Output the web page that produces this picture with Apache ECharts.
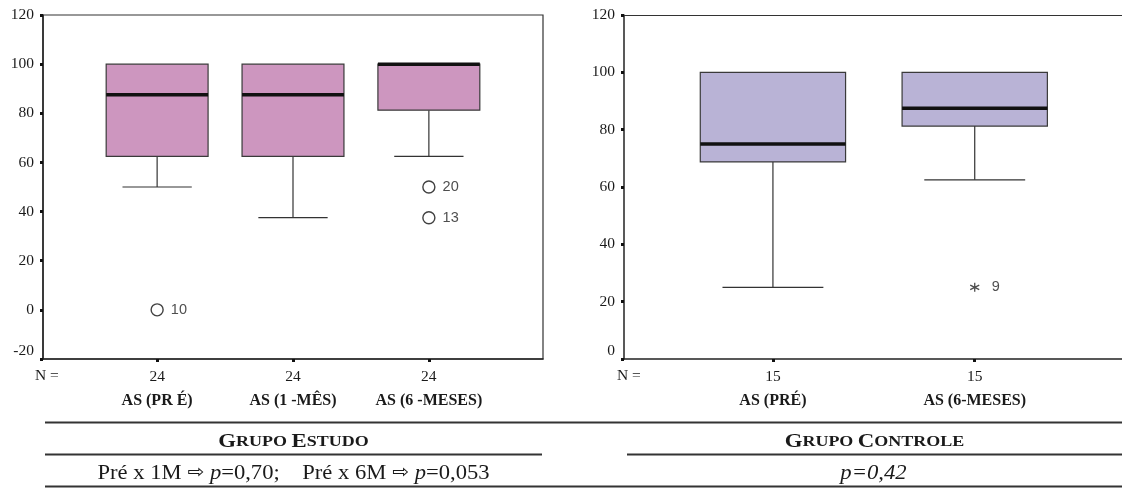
<!DOCTYPE html>
<html>
<head>
<meta charset="utf-8">
<script src="https://cdn.jsdelivr.net/npm/echarts@6/dist/echarts.min.js"></script>
<style>
html,body{margin:0;padding:0;background:#fff;}
#c{width:1122px;height:488px;}
</style>
</head>
<body>
<div id="c"></div>
<script>
// ---- Data: Grupo Estudo ----
const estudoCats = ['AS (PR É)', 'AS (1 -MÊS)', 'AS (6 -MESES)'];
const estudoN = [24, 24, 24];
const estudoMin = [50, 37.5, 62.5];
const estudoQ1 = [62.5, 62.5, 81.25];
const estudoMedian = [87.5, 87.5, 100];
const estudoQ3 = [100, 100, 100];
const estudoMax = [100, 100, 100];
const estudoOutlierCat = [1, 3, 3];
const estudoOutlierVal = [0, 50, 37.5];
const estudoOutlierId = ['10', '20', '13'];
const estudoYTicks = [-20, 0, 20, 40, 60, 80, 100, 120];

// ---- Data: Grupo Controle ----
const controleCats = ['AS (PRÉ)', 'AS (6-MESES)'];
const controleN = [15, 15];
const controleMin = [25, 62.5];
const controleQ1 = [68.75, 81.25];
const controleMedian = [75, 87.5];
const controleQ3 = [100, 100];
const controleMax = [100, 100];
const controleOutlierCat = [2];
const controleOutlierVal = [25];
const controleOutlierId = ['9'];
const controleYTicks = [0, 20, 40, 60, 80, 100, 120];

const SERIF = '"Liberation Serif", "Times New Roman", serif';
const SANS = '"Liberation Sans", Arial, sans-serif';
const TXT = '#1a1a1a';

function boxData(mins, q1, med, q3, max) {
  return mins.map((m, i) => [i + 1, m, q1[i], med[i], q3[i], max[i]]);
}

function makeRender(boxW, capW, fill) {
  return function (params, api) {
    const x = api.value(0);
    const pLo = api.coord([x, api.value(1)]);
    const pQ1 = api.coord([x, api.value(2)]);
    const pMed = api.coord([x, api.value(3)]);
    const pQ3 = api.coord([x, api.value(4)]);
    const pHi = api.coord([x, api.value(5)]);
    const bw = api.size([boxW, 0])[0];
    const cw = api.size([capW, 0])[0];
    const cx = pMed[0];
    const lineStyle = { stroke: '#333', lineWidth: 1.2, fill: null };
    const children = [];
    children.push({ type: 'line', shape: { x1: cx, y1: pQ1[1], x2: cx, y2: pLo[1] }, style: lineStyle });
    children.push({ type: 'line', shape: { x1: cx - cw / 2, y1: pLo[1], x2: cx + cw / 2, y2: pLo[1] }, style: lineStyle });
    if (pHi[1] < pQ3[1] - 0.5) {
      children.push({ type: 'line', shape: { x1: cx, y1: pQ3[1], x2: cx, y2: pHi[1] }, style: lineStyle });
      children.push({ type: 'line', shape: { x1: cx - cw / 2, y1: pHi[1], x2: cx + cw / 2, y2: pHi[1] }, style: lineStyle });
    }
    children.push({ type: 'rect', shape: { x: cx - bw / 2, y: pQ3[1], width: bw, height: pQ1[1] - pQ3[1] },
      style: { fill: fill, stroke: '#3a3a3a', lineWidth: 1.2 } });
    children.push({ type: 'line', shape: { x1: cx - bw / 2, y1: pMed[1], x2: cx + bw / 2, y2: pMed[1] },
      style: { stroke: '#111', lineWidth: 3.5 } });
    return { type: 'group', children: children };
  };
}

function outlierData(cats, vals, ids) {
  return cats.map((c, i) => ({ value: [c, vals[i]], name: ids[i] }));
}

function xLabelFormatter(cats, ns) {
  return function (v) {
    const i = Math.round(v) - 1;
    return '{n|' + ns[i] + '}\n{b|' + cats[i] + '}';
  };
}

const xLabelRich = {
  n: { fontFamily: SERIF, fontSize: 15.5, color: TXT, lineHeight: 18 },
  b: { fontFamily: SERIF, fontSize: 16, fontWeight: 'bold', color: TXT, lineHeight: 29 }
};

function yAxisCfg(min, max, gridIndex) {
  return {
    type: 'value', gridIndex: gridIndex, min: min, max: max, interval: 20,
    axisLine: { show: true, lineStyle: { color: '#222', width: 1.5 } },
    axisTick: { show: true, length: 3, lineStyle: { color: '#111', width: 3 } },
    axisLabel: { fontFamily: SERIF, fontSize: 15.5, color: TXT, margin: 9, verticalAlignMinLabel: 'bottom' },
    splitLine: { show: false }
  };
}

function xAxisCfg(min, max, gridIndex, cats, ns) {
  const vals = cats.map((c, i) => i + 1);
  return {
    type: 'value', gridIndex: gridIndex, min: min, max: max,
    axisLine: { show: true, onZero: false, lineStyle: { color: '#222', width: 1.5 } },
    axisTick: { show: true, length: 3, customValues: vals, lineStyle: { color: '#111', width: 3 } },
    axisLabel: { customValues: vals, margin: 9, formatter: xLabelFormatter(cats, ns), rich: xLabelRich },
    splitLine: { show: false }
  };
}

const RIGHT_W = 498;
const asteriskPath = 'path://M5,0L5,10M0.67,2.5L9.33,7.5M0.67,7.5L9.33,2.5';

const option = {
  animation: false,
  backgroundColor: '#ffffff',
  grid: [
    { left: 43, top: 15, width: 500, height: 344, show: true, borderColor: '#333', borderWidth: 1.2, backgroundColor: 'transparent' },
    { left: 624, top: 15, width: RIGHT_W, height: 344, show: false }
  ],
  xAxis: [
    xAxisCfg(0.16, 3.84, 0, estudoCats, estudoN),
    xAxisCfg(0.262, 0.262 + RIGHT_W / 201.8, 1, controleCats, controleN),
    { type: 'value', gridIndex: 1, position: 'top', min: 0, max: 1,
      axisLine: { show: true, onZero: false, lineStyle: { color: '#333', width: 1.2 } },
      axisTick: { show: false }, axisLabel: { show: false }, splitLine: { show: false } }
  ],
  yAxis: [
    yAxisCfg(-20, 120, 0),
    yAxisCfg(0, 120, 1)
  ],
  series: [
    {
      type: 'custom', xAxisIndex: 0, yAxisIndex: 0,
      renderItem: makeRender(0.75, 0.51, '#CD96BF'),
      encode: { x: 0, y: [1, 2, 3, 4, 5] },
      data: boxData(estudoMin, estudoQ1, estudoMedian, estudoQ3, estudoMax)
    },
    {
      type: 'custom', xAxisIndex: 1, yAxisIndex: 1,
      renderItem: makeRender(0.72, 0.5, '#B9B3D6'),
      encode: { x: 0, y: [1, 2, 3, 4, 5] },
      data: boxData(controleMin, controleQ1, controleMedian, controleQ3, controleMax)
    },
    {
      type: 'scatter', xAxisIndex: 0, yAxisIndex: 0,
      symbol: 'circle', symbolSize: 12,
      itemStyle: { color: '#fff', borderColor: '#111', borderWidth: 1.4 },
      label: { show: true, position: 'right', distance: 7, formatter: '{b}', fontFamily: SANS, fontSize: 14.5, color: '#222' },
      data: outlierData(estudoOutlierCat, estudoOutlierVal, estudoOutlierId)
    },
    {
      type: 'scatter', xAxisIndex: 1, yAxisIndex: 1,
      symbol: asteriskPath, symbolSize: 9,
      itemStyle: { color: 'none', borderColor: '#222', borderWidth: 1.3 },
      label: { show: true, position: 'right', distance: 10, formatter: '{b}', fontFamily: SANS, fontSize: 14.5, color: '#222' },
      data: outlierData(controleOutlierCat, controleOutlierVal, controleOutlierId)
    }
  ],
  graphic: [
    { type: 'text', left: 35, top: 368, style: { text: 'N =', font: '15.5px ' + SERIF, fill: TXT } },
    { type: 'text', left: 617, top: 368, style: { text: 'N =', font: '15.5px ' + SERIF, fill: TXT } },
    // table lines
    { type: 'line', shape: { x1: 45, y1: 422.5, x2: 1122, y2: 422.5 }, style: { stroke: '#333', lineWidth: 1.8 } },
    { type: 'line', shape: { x1: 45, y1: 454.5, x2: 542, y2: 454.5 }, style: { stroke: '#333', lineWidth: 1.8 } },
    { type: 'line', shape: { x1: 627, y1: 454.5, x2: 1122, y2: 454.5 }, style: { stroke: '#333', lineWidth: 1.8 } },
    { type: 'line', shape: { x1: 45, y1: 486.5, x2: 1122, y2: 486.5 }, style: { stroke: '#333', lineWidth: 1.8 } },
    // table texts
    { type: 'text', x: 293.5, y: 442, scaleX: 1.2, style: {
        text: '{c|G}{s|RUPO }{c|E}{s|STUDO}', align: 'center', verticalAlign: 'middle',
        rich: { c: { fontFamily: SERIF, fontSize: 19, fontWeight: 'bold', fill: TXT },
                s: { fontFamily: SERIF, fontSize: 15, fontWeight: 'bold', fill: TXT } } } },
    { type: 'text', x: 874.5, y: 442, scaleX: 1.2, style: {
        text: '{c|G}{s|RUPO }{c|C}{s|ONTROLE}', align: 'center', verticalAlign: 'middle',
        rich: { c: { fontFamily: SERIF, fontSize: 19, fontWeight: 'bold', fill: TXT },
                s: { fontFamily: SERIF, fontSize: 15, fontWeight: 'bold', fill: TXT } } } },
    { type: 'text', x: 293.5, y: 473, scaleX: 1.075, style: {
        text: '{r|Pré x 1M }{a|⇨}{r| }{i|p}{r|=0,70;    Pré x 6M }{a|⇨}{r| }{i|p}{r|=0,053}', align: 'center', verticalAlign: 'middle',
        rich: { r: { fontFamily: SERIF, fontSize: 21, fill: TXT },
                i: { fontFamily: SERIF, fontSize: 21, fontStyle: 'italic', fill: TXT },
                a: { fontFamily: '"DejaVu Sans", sans-serif', fontSize: 19, fill: TXT } } } },
    { type: 'text', x: 873.5, y: 473, scaleX: 1.08, style: {
        text: 'p=0,42', align: 'center', verticalAlign: 'middle',
        font: 'italic 21px ' + SERIF, fill: TXT } }
  ]
};

const chart = echarts.init(document.getElementById('c'), null, { renderer: 'canvas' });
chart.setOption(option);
</script>
</body>
</html>
